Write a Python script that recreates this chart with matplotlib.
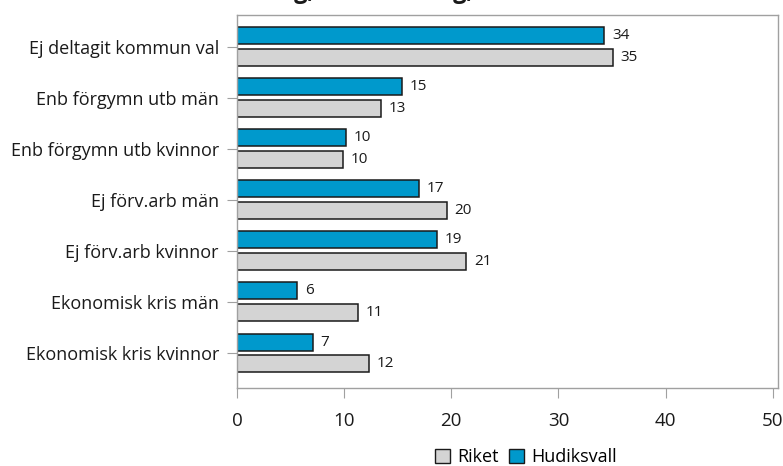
import matplotlib
matplotlib.use("Agg")
import matplotlib.pyplot as plt
from matplotlib.patches import Patch
import numpy as np

plt.rcParams['font.family'] = ['Open Sans', 'DejaVu Sans']

categories = ["Ej deltagit kommun val", "Enb förgymn utb män", "Enb förgymn utb kvinnor",
              "Ej förv.arb män", "Ej förv.arb kvinnor", "Ekonomisk kris män",
              "Ekonomisk kris kvinnor"]
hudiksvall = [34.3, 15.4, 10.15, 17.0, 18.7, 5.6, 7.1]
riket = [35.1, 13.4, 9.9, 19.6, 21.4, 11.3, 12.3]
xticks = [0, 10, 20, 30, 40, 50]

blue = "#0099cc"
grey = "#d4d4d4"
frame = "#a0a0a0"
dark = "#1a1a1a"

fig = plt.figure(figsize=(7.83, 4.66), dpi=100)
ax = fig.add_axes([237 / 783, 1 - 388 / 466, 541 / 783, 373 / 466])

y = -np.arange(len(categories))
h = 0.333
off = 0.215
ax.barh(y + off, hudiksvall, height=h, color=blue, edgecolor=dark, linewidth=1.1)
ax.barh(y - off, riket, height=h, color=grey, edgecolor=dark, linewidth=1.1)

for yi, v in zip(y, hudiksvall):
    ax.annotate(f"{v:.0f}", (v, yi + off), xytext=(5.5, 0), textcoords="offset points",
                va="center", ha="left", fontsize=11, color=dark)
for yi, v in zip(y, riket):
    ax.annotate(f"{v:.0f}", (v, yi - off), xytext=(5.5, 0), textcoords="offset points",
                va="center", ha="left", fontsize=11, color=dark)

ax.set_xlim(0, 50.5)
ax.set_ylim(y[-1] - 0.685, 0.617)
ax.set_xticks(xticks)
ax.set_yticks(y)
ax.set_yticklabels(categories)

for s in ax.spines.values():
    s.set_color(frame)
    s.set_linewidth(1.0)
ax.tick_params(axis="y", length=7, color=frame, labelsize=13, pad=6, labelcolor=dark)
ax.tick_params(axis="x", length=7, color=frame, labelsize=13.5, pad=10, labelcolor=dark)

# title, mostly cut off at the top edge
fig.text(178 / 783, 1 + 2 / 466, "Förankring, Kön Ledning,", fontsize=17,
         fontweight="bold", ha="left", va="baseline", color=dark)

handles = [Patch(facecolor=grey, edgecolor=dark, label="Riket"),
           Patch(facecolor=blue, edgecolor=dark, label="Hudiksvall")]
fig.legend(handles=handles, loc="center", bbox_to_anchor=(526 / 783, 1 - 457 / 466),
           ncol=2, frameon=False, fontsize=13, handlelength=0.8, handleheight=0.8,
           handletextpad=0.4, columnspacing=0.6, borderpad=0.2)

fig.savefig("out.png", dpi=100)
